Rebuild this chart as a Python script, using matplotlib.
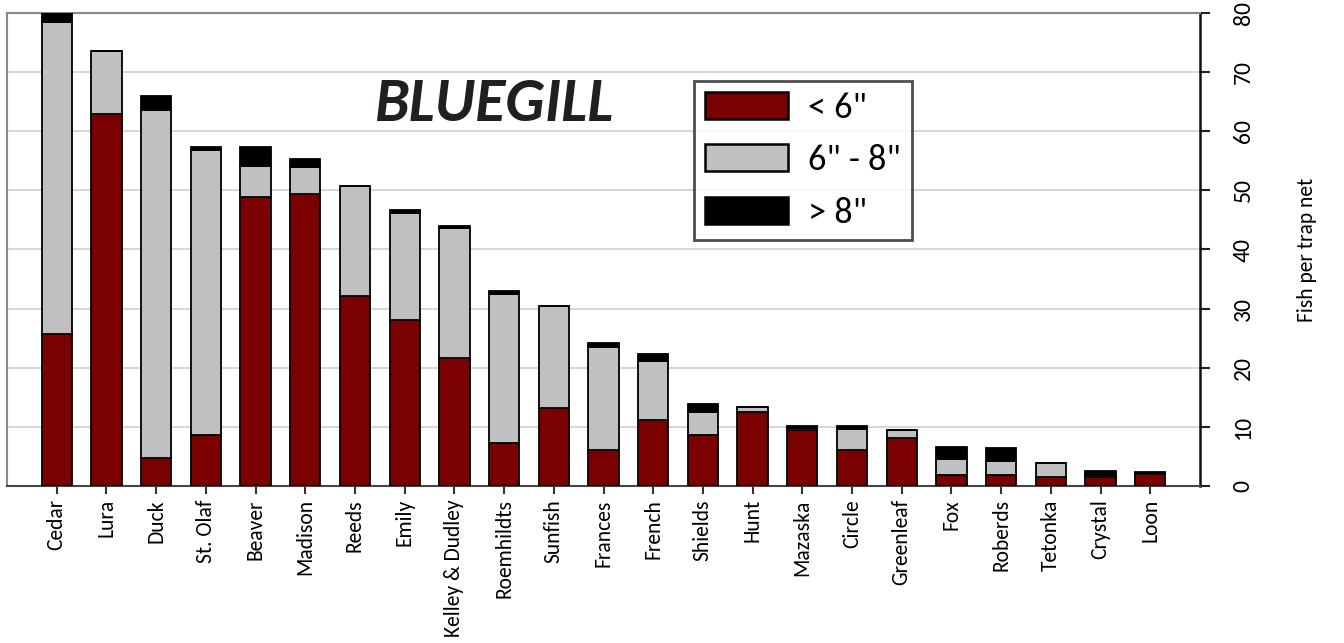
import matplotlib
matplotlib.use("Agg")
import matplotlib.pyplot as plt
from matplotlib.patches import Patch
import numpy as np

lakes = ["Cedar", "Lura", "Duck", "St. Olaf", "Beaver", "Madison", "Reeds", "Emily",
         "Kelley & Dudley", "Roemhildts", "Sunfish", "Frances", "French", "Shields",
         "Hunt", "Mazaska", "Circle", "Greenleaf", "Fox", "Roberds", "Tetonka",
         "Crystal", "Loon"]
under6 = [25.7, 62.9, 4.8, 8.6, 48.9, 49.4, 32.1, 28.1, 21.6, 7.3, 13.2, 6.1, 11.2,
          8.7, 12.5, 9.5, 6.1, 8.2, 1.9, 1.9, 1.6, 1.6, 2.0]
six_to_8 = [52.8, 10.6, 58.8, 48.2, 5.2, 4.5, 18.6, 18.1, 22.1, 25.2, 17.2, 17.4, 9.9,
            3.9, 0.9, 0.3, 3.6, 1.2, 2.7, 2.3, 2.3, 0.3, 0.2]
over8 = [1.5, 0.0, 2.3, 0.5, 3.2, 1.4, 0.0, 0.4, 0.2, 0.5, 0.0, 0.7, 1.2,
         1.2, 0.0, 0.3, 0.4, 0.0, 2.0, 2.2, 0.0, 0.6, 0.2]
series_labels = ['< 6"', '6" - 8"', '> 8"']
yticks = [0, 10, 20, 30, 40, 50, 60, 70, 80]

colors = ["#7B0000", "#C0C0C0", "#000000"]
fam = ["Carlito", "DejaVu Sans"]

fig = plt.figure(figsize=(13.44, 6.43), dpi=100)
ax = fig.add_axes([7/1344, 1 - 486/643, (1200 - 7)/1344, (486 - 13)/643])

x = np.arange(len(lakes))
a = np.array(under6); b = np.array(six_to_8); c = np.array(over8)
w = 0.61
ax.bar(x, a, w, color=colors[0], edgecolor="black", linewidth=1.3, zorder=3)
ax.bar(x, b, w, bottom=a, color=colors[1], edgecolor="black", linewidth=1.3, zorder=3)
ax.bar(x, c, w, bottom=a + b, color=colors[2], edgecolor="black", linewidth=1.3, zorder=3)

ax.set_xlim(-1, len(lakes))
ax.set_ylim(0, 80)
ax.set_yticks(yticks)
ax.yaxis.grid(True, color="#D0D0D0", linewidth=1.2, zorder=0)
ax.set_axisbelow(True)

ax.set_xticks(x)
ax.set_xticklabels(lakes, rotation=90, fontsize=15.5, family=fam)
ax.tick_params(axis="x", length=5.5, width=1.5, color="#333333", pad=4)

ax.yaxis.tick_right()
ax.yaxis.set_label_position("right")
ax.tick_params(axis="y", length=7.5, width=1.5, color="#222222", pad=16, labelsize=17)
for lab in ax.get_yticklabels():
    lab.set_rotation(90)
    lab.set_family(fam)
    lab.set_va("center")
ax.set_ylabel("Fish per trap net", fontsize=15.5, family=fam, labelpad=31)

for s in ["left", "top"]:
    ax.spines[s].set_color("#888888")
    ax.spines[s].set_linewidth(1.5)
ax.spines["bottom"].set_color("#444444")
ax.spines["bottom"].set_linewidth(1.5)
ax.spines["right"].set_color("#111111")
ax.spines["right"].set_linewidth(1.8)

ax.text(0.408, 0.808, "BLUEGILL", transform=ax.transAxes, ha="center", va="center",
        fontsize=44.5, fontweight="bold", fontstyle="italic", family=fam,
        color="#231F20")

handles = [Patch(facecolor=colors[i], edgecolor="black", linewidth=1.8, label=series_labels[i])
           for i in range(3)]
leg = ax.legend(handles=handles, loc="upper left", bbox_to_anchor=(0.576, 0.856),
                frameon=True, fancybox=False, edgecolor="#222222",
                handlelength=2.3, handleheight=0.78, labelspacing=0.56,
                borderpad=0.3, handletextpad=0.55, borderaxespad=0,
                prop={"family": fam, "size": 26})
leg.get_frame().set_linewidth(2)
leg.set_zorder(5)

fig.savefig("out.png", dpi=100)
